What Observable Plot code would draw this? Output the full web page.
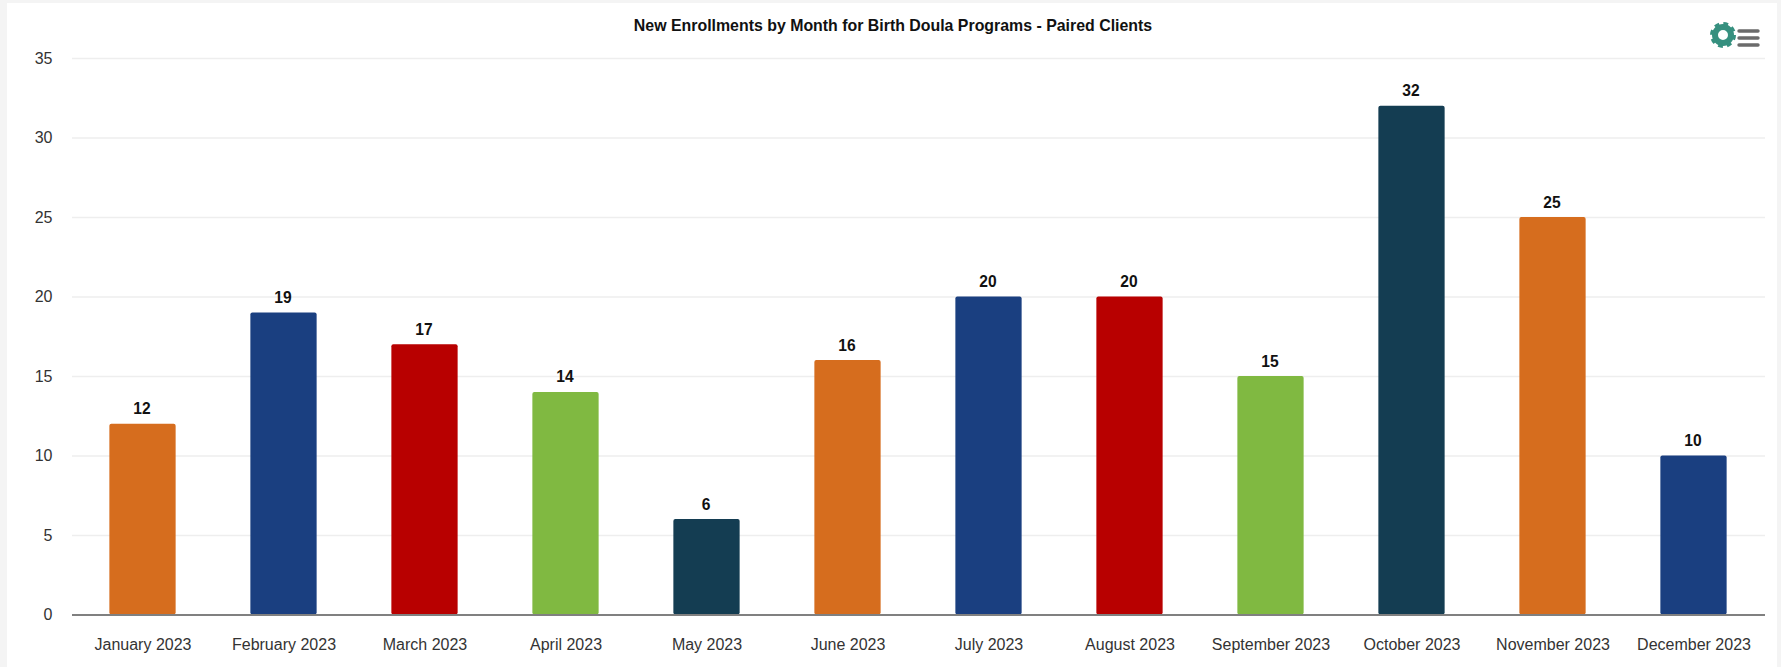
<!DOCTYPE html>
<html>
<head>
<meta charset="utf-8">
<script src="https://cdn.jsdelivr.net/npm/d3@7"></script>
<script src="https://cdn.jsdelivr.net/npm/@observablehq/plot@0.6"></script>
<style>
html,body{margin:0;padding:0;background:#f4f4f4;width:1781px;height:667px;overflow:hidden}
#panel{position:absolute;left:7px;top:3px;width:1770px;height:664px;background:#fff}
#chart{position:absolute;left:0;top:0}
#title{position:absolute;left:8px;top:17px;width:1770px;text-align:center;font:bold 15.9px "Liberation Sans",Arial,sans-serif;color:#111;line-height:18px}
#menu{position:absolute;left:1708px;top:20px}
</style>
</head>
<body>
<div id="panel"></div>
<div id="chart"></div>
<div id="title">New Enrollments by Month for Birth Doula Programs - Paired Clients</div>
<svg id="menu" width="56" height="30" viewBox="0 0 56 30" aria-hidden="true">
  <g fill="none" stroke="#36907f">
    <circle cx="15" cy="15" r="8" stroke-width="6"/>
    <circle cx="15" cy="15" r="11" stroke-width="4" stroke-dasharray="4.6 4.04"/>
  </g>
  <g fill="none" stroke="#6b6b6b" stroke-width="3.4" stroke-linecap="round">
    <path d="M31 11H50"/><path d="M31 18H50"/><path d="M31 25H50"/>
  </g>
</svg>
<script>
const months = ["January 2023","February 2023","March 2023","April 2023","May 2023","June 2023","July 2023","August 2023","September 2023","October 2023","November 2023","December 2023"];
const enrollments = [12,19,17,14,6,16,20,20,15,32,25,10];
const barColors = ["#d66d1e","#1a3f80","#b80000","#80b941","#143d52","#d66d1e","#1a3f80","#b80000","#80b941","#143d52","#d66d1e","#1a3f80"];
const yTicks = [0,5,10,15,20,25,30,35];
const rows = months.map((month,i)=>({month,value:enrollments[i],color:barColors[i]}));

const chart = Plot.plot({
  width:1781,
  height:667,
  marginLeft:72,
  marginRight:17,
  marginTop:58,
  marginBottom:52.5,
  style:{background:"transparent",fontFamily:'"Liberation Sans",Arial,sans-serif',fontSize:"16px"},
  x:{domain:months,paddingInner:0.53,paddingOuter:0.265,round:false,label:null},
  y:{domain:[0,35],label:null},
  marks:[
    Plot.ruleY(yTicks.slice(1),{stroke:"#eeeeee",strokeWidth:1.5,strokeOpacity:1,insetRight:-1}),
    Plot.barY(rows,{x:"month",y:"value",fill:"color",rx:2}),
    Plot.ruleY([0],{stroke:"#808080",strokeWidth:2,strokeOpacity:1,insetRight:-1}),
    Plot.text(rows,{x:"month",y:"value",text:d=>String(d.value),dy:-15,dx:-1,fill:"#111",fontWeight:"bold",fontSize:15.6}),
    Plot.axisY({ticks:yTicks,tickSize:0,tickPadding:20,label:null,color:"#333",fontSize:16}),
    Plot.axisX({tickSize:0,tickPadding:24,label:null,color:"#333",fontSize:16,lineWidth:20})
  ]
});
document.getElementById("chart").appendChild(chart);
</script>
</body>
</html>
